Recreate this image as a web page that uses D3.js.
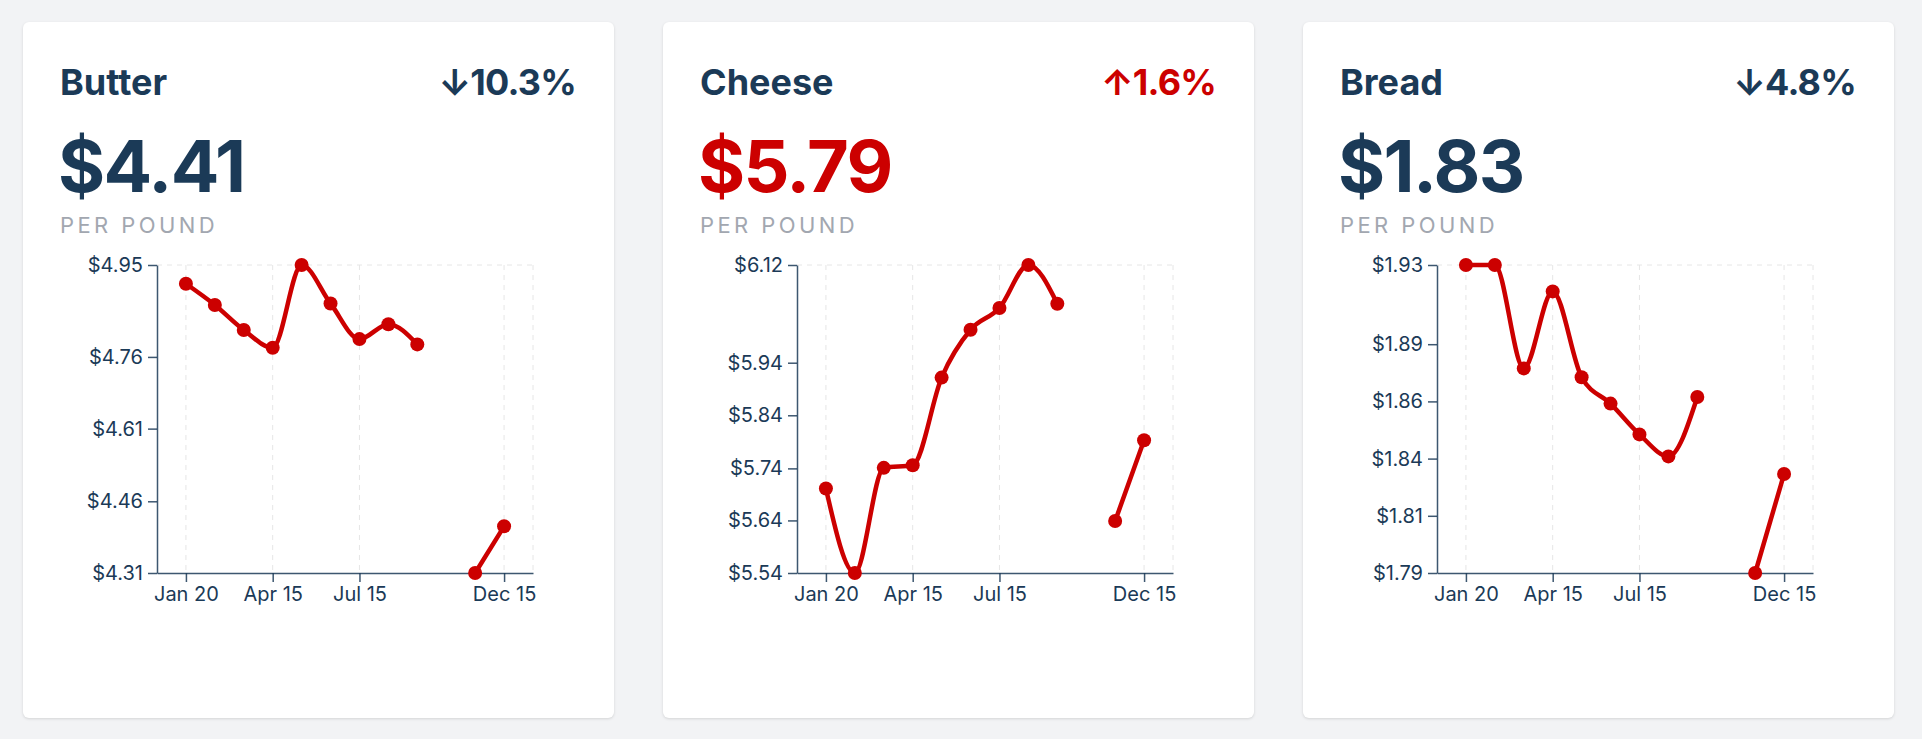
<html>
<head>
  <meta charset="utf-8">
  <title>Grocery Prices</title>
  <style>
    body{
      margin: 0;
      background: #f2f3f5;
      font-family: Inter, "Noto Sans", sans-serif;
    }

    .card{
      position: absolute;
      top: 22px;
      width: 591px;
      height: 696px;
      background: #fff;
      border-radius: 6px;
      box-shadow: 0 1px 3px rgba(0,0,0,0.13);
    }
  </style>
  <script src="https://d3js.org/d3.v7.min.js"></script>
</head>
<body>
  <div id="container"></div>

  <script>
    //*******DATA*******
    const months = ["Jan 20", "Feb 15", "Mar 15", "Apr 15", "May 15", "Jun 15",
                    "Jul 15", "Aug 15", "Sep 15", "Oct 15", "Nov 15", "Dec 15"];
    const xTicks = ["Jan 20", "Apr 15", "Jul 15", "Dec 15"];

    const items = ["Butter", "Cheese", "Bread"];
    const prices = ["$4.41", "$5.79", "$1.83"];
    const changes = ["\u219310.3%", "\u21911.6%", "\u21934.8%"];
    const rising = [false, true, false];

    const butterValues = [4.911, 4.867, 4.815, 4.778, 4.95, 4.870, 4.796, 4.827, 4.785, null, 4.31, 4.407];
    const cheeseValues = [5.699, 5.54, 5.738, 5.743, 5.908, 5.998, 6.039, 6.12, 6.047, null, 5.638, 5.79];
    const breadValues = [1.93, 1.93, 1.883, 1.918, 1.879, 1.867, 1.853, 1.843, 1.870, null, 1.79, 1.835];

    const butterTicks = [4.31, 4.459, 4.61, 4.759, 4.95];
    const butterTickLabels = ["$4.31", "$4.46", "$4.61", "$4.76", "$4.95"];
    const cheeseTicks = [5.54, 5.639, 5.737, 5.837, 5.936, 6.12];
    const cheeseTickLabels = ["$5.54", "$5.64", "$5.74", "$5.84", "$5.94", "$6.12"];
    const breadTicks = [1.79, 1.816, 1.842, 1.868, 1.894, 1.93];
    const breadTickLabels = ["$1.79", "$1.81", "$1.84", "$1.86", "$1.89", "$1.93"];

    const series = [butterValues, cheeseValues, breadValues];
    const yTicks = [butterTicks, cheeseTicks, breadTicks];
    const yTickLabels = [butterTickLabels, cheeseTickLabels, breadTickLabels];

    //*******CONSTANTS*******
    const cardWidth = 591,
          cardHeight = 696,
          cardGap = 49,
          margin = {
            top: 243,
            left: 134,
            right: 81,
            bottom: 145
          };
    const plotWidth = cardWidth - margin.left - margin.right,
          plotHeight = cardHeight - margin.top - margin.bottom;
    const navy = "#1b3a57",
          red = "#cc0000",
          grey = "#a2a7b0",
          gridColor = "#e6e6e6";

    const x = d3.scalePoint()
      .domain(months)
      .range([0, plotWidth])
      .padding(1);

    items.forEach(function(name, i){
      var card = d3.select("#container")
        .append("div")
        .attr("class", "card")
        .style("left", (23 + i*(cardWidth + cardGap)) + "px");

      var svg = card.append("svg")
        .attr("width", cardWidth)
        .attr("height", cardHeight)
        .style("display", "block")
        .style("font-family", "Inter, 'Noto Sans', sans-serif");

      var accent = rising[i] ? red : navy;

      // header texts
      svg.append("text")
        .attr("x", 37)
        .attr("y", 73)
        .attr("font-size", 36)
        .attr("font-weight", 700)
        .attr("fill", navy)
        .text(name);

      svg.append("text")
        .attr("x", cardWidth - 38)
        .attr("y", 73)
        .attr("text-anchor", "end")
        .attr("font-size", 36)
        .attr("font-weight", 700)
        .attr("letter-spacing", -0.8)
        .attr("fill", accent)
        .text(changes[i]);

      svg.append("text")
        .attr("x", 35)
        .attr("y", 170)
        .attr("font-size", 72)
        .attr("font-weight", 700)
        .attr("letter-spacing", -1.6)
        .attr("fill", accent)
        .text(prices[i]);

      svg.append("text")
        .attr("x", 37)
        .attr("y", 211)
        .attr("font-size", 22)
        .attr("letter-spacing", 3.4)
        .attr("fill", grey)
        .text("PER POUND");

      // chart
      var values = series[i];
      var y = d3.scaleLinear()
        .domain(d3.extent(values.filter(function(d){ return d != null; })))
        .range([plotHeight, 0]);

      var g = svg.append("g")
        .attr("transform", "translate(" + margin.left + "," + margin.top + ")");

      // dashed grid: vertical at x ticks, plus top and right frame
      var grid = g.append("g")
        .attr("stroke", gridColor)
        .attr("stroke-width", 1)
        .attr("stroke-dasharray", "5,5");
      grid.selectAll(".vgrid")
        .data(xTicks)
        .enter()
        .append("line")
        .attr("x1", function(d){ return x(d); })
        .attr("x2", function(d){ return x(d); })
        .attr("y1", 0)
        .attr("y2", plotHeight);
      grid.append("line")
        .attr("x1", plotWidth).attr("x2", plotWidth)
        .attr("y1", 0).attr("y2", plotHeight);
      grid.append("line")
        .attr("x1", 0).attr("x2", plotWidth)
        .attr("y1", y.range()[1]).attr("y2", y.range()[1]);

      var xAxis = g.append("g")
        .attr("transform", "translate(0," + plotHeight + ")")
        .call(d3.axisBottom(x).tickValues(xTicks).tickSize(9).tickSizeOuter(0).tickPadding(5));

      var yAxis = g.append("g")
        .call(d3.axisLeft(y)
          .tickValues(yTicks[i])
          .tickFormat(function(d, k){ return yTickLabels[i][k]; })
          .tickSize(9).tickSizeOuter(0).tickPadding(5));

      [xAxis, yAxis].forEach(function(a){
        a.selectAll("path, line")
          .attr("stroke", navy)
          .attr("stroke-width", 1.5)
          .attr("stroke-opacity", 0.85);
        a.selectAll("text")
          .attr("fill", navy)
          .attr("font-size", 20)
          .attr("font-family", "Inter, 'Noto Sans', sans-serif");
      });

      var line = d3.line()
        .defined(function(d){ return d != null; })
        .x(function(d, k){ return x(months[k]); })
        .y(function(d){ return y(d); })
        .curve(d3.curveMonotoneX);

      g.append("path")
        .datum(values)
        .attr("fill", "none")
        .attr("stroke", red)
        .attr("stroke-width", 4.5)
        .attr("stroke-linejoin", "round")
        .attr("d", line);

      g.selectAll(".dot")
        .data(values.map(function(d, k){ return {month: months[k], value: d}; })
          .filter(function(d){ return d.value != null; }))
        .enter()
        .append("circle")
        .attr("class", "dot")
        .attr("cx", function(d){ return x(d.month); })
        .attr("cy", function(d){ return y(d.value); })
        .attr("r", 7)
        .attr("fill", red);
    });
  </script>
</body>
</html>
